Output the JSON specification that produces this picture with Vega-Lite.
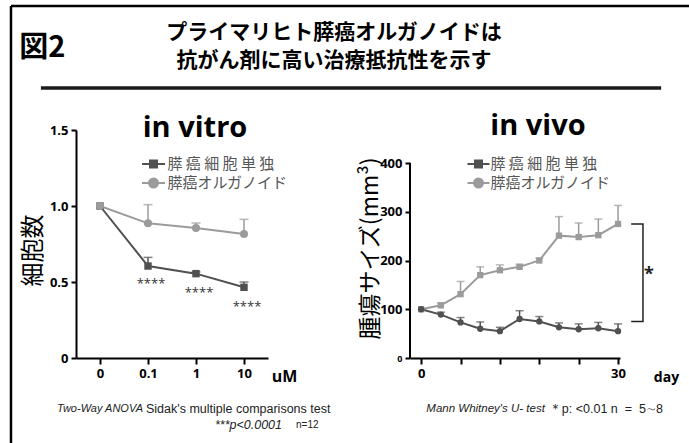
{
  "$schema": "https://vega.github.io/schema/vega-lite/v6.json",
  "padding": {"left": 9, "top": 4, "right": 0, "bottom": 0},
  "background": "white",
  "bounds": "flush",
  "spacing": 34,
  "config": {
    "view": {"stroke": null},
    "axis": {"domainColor": "black", "domainWidth": 2, "tickColor": "black", "tickWidth": 2, "tickSize": 5, "labelColor": "black", "labelFont": "Open Sans", "labelFontSize": 13, "labelFontWeight": "bold", "labelPadding": 3, "grid": false, "titleColor": "black"}
  },
  "vconcat": [
    {
      "width": 516,
      "height": 90,
      "data": {"values": [{}]},
      "layer": [
        {
          "mark": {"type": "rule", "stroke": "#000000", "strokeWidth": 2.5},
          "encoding": {
            "x": {"datum": -0.126, "type": "quantitative", "scale": {"domain": [0, 1], "nice": false, "zero": false}, "axis": null},
            "x2": {"datum": 1.2},
            "y": {"datum": 0.001, "type": "quantitative", "scale": {"domain": [0, 1], "nice": false, "zero": false, "reverse": true}, "axis": null}
          }
        },
        {
          "mark": {"type": "rule", "stroke": "#000000", "strokeWidth": 2.5},
          "encoding": {
            "x": {"datum": -0.126, "type": "quantitative", "axis": null},
            "y": {"datum": 0.001, "type": "quantitative", "axis": null},
            "y2": {"datum": 4.95}
          }
        },
        {
          "mark": {"type": "rule", "color": "#1a1a1a", "strokeWidth": 3.5},
          "encoding": {
            "x": {"datum": -0.068, "type": "quantitative", "axis": null},
            "x2": {"datum": 1.134},
            "y": {"datum": 0.911, "type": "quantitative", "axis": null}
          }
        },
        {
          "mark": {"type": "text", "text": "図2", "align": "left", "baseline": "middle", "font": "Noto Sans CJK JP", "fontSize": 29, "fontWeight": "bold", "color": "black"},
          "encoding": {
            "x": {"datum": -0.11, "type": "quantitative", "axis": null},
            "y": {"datum": 0.467, "type": "quantitative", "axis": null}
          }
        },
        {
          "mark": {"type": "text", "text": "プライマリヒト膵癌オルガノイドは", "align": "center", "baseline": "middle", "font": "Noto Sans CJK JP", "fontSize": 21, "fontWeight": "bold", "color": "black"},
          "encoding": {
            "x": {"datum": 0.5, "type": "quantitative", "axis": null},
            "y": {"datum": 0.3, "type": "quantitative", "axis": null}
          }
        },
        {
          "mark": {"type": "text", "text": "抗がん剤に高い治療抵抗性を示す", "align": "center", "baseline": "middle", "font": "Noto Sans CJK JP", "fontSize": 21, "fontWeight": "bold", "color": "black"},
          "encoding": {
            "x": {"datum": 0.5, "type": "quantitative", "axis": null},
            "y": {"datum": 0.61, "type": "quantitative", "axis": null}
          }
        }
      ]
    },
    {
      "bounds": "flush",
      "spacing": 142,
      "resolve": {"scale": {"color": "independent"}, "legend": {"color": "independent"}},
      "hconcat": [
        {
          "width": 192,
          "height": 228,
          "data": {"values": [
            {"conc": "0", "series": "膵癌オルガノイド", "mean": 1.0},
            {"conc": "0.1", "series": "膵癌オルガノイド", "mean": 0.886, "hi": 1.009},
            {"conc": "1", "series": "膵癌オルガノイド", "mean": 0.855, "hi": 0.888},
            {"conc": "10", "series": "膵癌オルガノイド", "mean": 0.816, "hi": 0.912},
            {"conc": "0", "series": "膵癌細胞単独", "mean": 1.0},
            {"conc": "0.1", "series": "膵癌細胞単独", "mean": 0.605, "hi": 0.662},
            {"conc": "1", "series": "膵癌細胞単独", "mean": 0.555, "hi": 0.566},
            {"conc": "10", "series": "膵癌細胞単独", "mean": 0.465, "hi": 0.5}
          ]},
          "layer": [
            {
              "mark": {"type": "line", "strokeWidth": 2},
              "encoding": {
                "x": {"field": "conc", "type": "ordinal", "sort": ["0", "0.1", "1", "10"], "scale": {"type": "point", "padding": 0.5, "domain": ["0", "0.1", "1", "10"]},
                  "axis": {"title": "uM", "titleX": 208, "titleY": 18, "titleAlign": "center", "titleBaseline": "middle", "titleAngle": 0, "titleFont": "Open Sans", "titleFontSize": 16, "titleFontWeight": "bold", "labelAngle": 0, "tickSize": 6}},
                "y": {"field": "mean", "type": "quantitative", "scale": {"domain": [0, 1.5], "nice": false, "zero": true},
                  "axis": {"values": [0, 0.5, 1, 1.5], "labelExpr": "datum.value == 0 ? '0' : format(datum.value, '.1f')", "title": "細胞数", "titleFont": "Noto Sans CJK JP", "titleFontSize": 24, "titleFontWeight": "normal", "titleX": -43, "titleY": 120, "titleAngle": -90, "titleAlign": "center", "titleBaseline": "middle"}},
                "color": {"field": "series", "type": "nominal", "scale": {"domain": ["膵癌細胞単独", "膵癌オルガノイド"], "range": ["#505050", "#9b9b9b"]},
                  "legend": {"orient": "none", "legendX": 66.5, "legendY": 23, "title": null, "symbolSize": 400, "symbolStrokeWidth": 2, "labelFont": "Noto Sans CJK JP", "labelFontSize": 15, "labelColor": "#555555", "labelOffset": 3, "rowPadding": 0,
                    "labelExpr": "datum.label == '膵癌細胞単独' ? '膵 癌 細 胞 単 独' : datum.label",
                    "encode": {"symbols": {"update": {
                      "shape": {"signal": "datum.value == '膵癌細胞単独' ? 'M-1.15,0H1.15M-0.35,-0.35H0.35V0.35H-0.35Z' : 'M-1.15,0H1.15M0.45,0A0.45,0.45 0 1 1 -0.45,0A0.45,0.45 0 1 1 0.45,0Z'"},
                      "fill": {"signal": "datum.value == '膵癌細胞単独' ? '#505050' : '#9b9b9b'"},
                      "stroke": {"signal": "datum.value == '膵癌細胞単独' ? '#505050' : '#9b9b9b'"},
                      "opacity": {"value": 1}
                    }}}}}
              }
            },
            {
              "transform": [{"filter": "datum.hi != null"}],
              "mark": {"type": "rule", "strokeWidth": 1.5},
              "encoding": {
                "x": {"field": "conc", "type": "ordinal"},
                "y": {"field": "mean", "type": "quantitative"},
                "y2": {"field": "hi"},
                "color": {"field": "series", "type": "nominal"}
              }
            },
            {
              "transform": [{"filter": "datum.hi != null"}],
              "mark": {"type": "tick", "orient": "horizontal", "size": 9, "thickness": 1.5},
              "encoding": {
                "x": {"field": "conc", "type": "ordinal"},
                "y": {"field": "hi", "type": "quantitative"},
                "color": {"field": "series", "type": "nominal"}
              }
            },
            {
              "transform": [{"filter": "datum.series == '膵癌細胞単独'"}],
              "mark": {"type": "point", "shape": "square", "filled": true, "opacity": 1, "size": 55},
              "encoding": {
                "x": {"field": "conc", "type": "ordinal"},
                "y": {"field": "mean", "type": "quantitative"},
                "color": {"field": "series", "type": "nominal"}
              }
            },
            {
              "transform": [{"filter": "datum.series == '膵癌オルガノイド'"}],
              "mark": {"type": "point", "shape": "circle", "filled": true, "opacity": 1, "size": 65},
              "encoding": {
                "x": {"field": "conc", "type": "ordinal"},
                "y": {"field": "mean", "type": "quantitative"},
                "color": {"field": "series", "type": "nominal"}
              }
            },
            {
              "data": {"values": [
                {"conc": "0.1", "mean": 0.487, "sig": "****"},
                {"conc": "1", "mean": 0.425, "sig": "****"},
                {"conc": "10", "mean": 0.333, "sig": "****"}
              ]},
              "mark": {"type": "text", "dx": 3, "dy": 0, "font": "Open Sans", "fontSize": 13, "color": "#333333", "baseline": "middle"},
              "encoding": {
                "x": {"field": "conc", "type": "ordinal"},
                "y": {"field": "mean", "type": "quantitative"},
                "text": {"field": "sig"}
              }
            },
            {
              "data": {"values": [{}]},
              "mark": {"type": "text", "text": "in vitro", "align": "center", "baseline": "alphabetic", "dx": -1, "dy": 7, "font": "Open Sans", "fontSize": 29, "fontWeight": "bold", "color": "black"},
              "encoding": {"x": {"datum": "1", "type": "ordinal"}, "y": {"datum": 1.5, "type": "quantitative"}}
            },
            {
              "data": {"values": [{}]},
              "mark": {"type": "text", "text": "Two-Way ANOVA", "align": "right", "baseline": "middle", "dx": -5, "dy": 51, "font": "Liberation Sans", "fontSize": 11, "fontStyle": "italic", "color": "#222222"},
              "encoding": {"x": {"datum": "0.1", "type": "ordinal"}, "y": {"datum": 0, "type": "quantitative"}}
            },
            {
              "data": {"values": [{}]},
              "mark": {"type": "text", "text": "Sidak's multiple comparisons test", "align": "left", "baseline": "middle", "dx": -2, "dy": 51, "font": "Liberation Sans", "fontSize": 12.5, "color": "#222222"},
              "encoding": {"x": {"datum": "0.1", "type": "ordinal"}, "y": {"datum": 0, "type": "quantitative"}}
            },
            {
              "data": {"values": [{}]},
              "mark": {"type": "text", "text": "***p<0.0001", "align": "right", "baseline": "middle", "dx": 38, "dy": 67, "font": "Liberation Sans", "fontSize": 12.5, "fontStyle": "italic", "color": "#222222"},
              "encoding": {"x": {"datum": "10", "type": "ordinal"}, "y": {"datum": 0, "type": "quantitative"}}
            },
            {
              "data": {"values": [{}]},
              "mark": {"type": "text", "text": "n=12", "align": "left", "baseline": "middle", "dx": 52, "dy": 67, "font": "Liberation Sans", "fontSize": 10, "color": "#222222"},
              "encoding": {"x": {"datum": "10", "type": "ordinal"}, "y": {"datum": 0, "type": "quantitative"}}
            }
          ]
        },
        {
          "width": 210,
          "height": 228,
          "data": {"values": [
            {"day": 0, "series": "膵癌オルガノイド", "mean": 100},
            {"day": 3, "series": "膵癌オルガノイド", "mean": 108, "hi": 113},
            {"day": 6, "series": "膵癌オルガノイド", "mean": 131, "hi": 157},
            {"day": 9, "series": "膵癌オルガノイド", "mean": 170, "hi": 187},
            {"day": 12, "series": "膵癌オルガノイド", "mean": 180, "hi": 191},
            {"day": 15, "series": "膵癌オルガノイド", "mean": 187, "hi": 192},
            {"day": 18, "series": "膵癌オルガノイド", "mean": 200, "hi": 205},
            {"day": 21, "series": "膵癌オルガノイド", "mean": 251, "hi": 290},
            {"day": 24, "series": "膵癌オルガノイド", "mean": 248, "hi": 277},
            {"day": 27, "series": "膵癌オルガノイド", "mean": 252, "hi": 285},
            {"day": 30, "series": "膵癌オルガノイド", "mean": 275, "hi": 313},
            {"day": 0, "series": "膵癌細胞単独", "mean": 100},
            {"day": 3, "series": "膵癌細胞単独", "mean": 89, "hi": 94},
            {"day": 6, "series": "膵癌細胞単独", "mean": 73, "hi": 83},
            {"day": 9, "series": "膵癌細胞単独", "mean": 60, "hi": 74},
            {"day": 12, "series": "膵癌細胞単独", "mean": 55, "hi": 63},
            {"day": 15, "series": "膵癌細胞単独", "mean": 80, "hi": 97},
            {"day": 18, "series": "膵癌細胞単独", "mean": 75, "hi": 85},
            {"day": 21, "series": "膵癌細胞単独", "mean": 63, "hi": 72},
            {"day": 24, "series": "膵癌細胞単独", "mean": 59, "hi": 70},
            {"day": 27, "series": "膵癌細胞単独", "mean": 61, "hi": 73},
            {"day": 30, "series": "膵癌細胞単独", "mean": 55, "hi": 70}
          ]},
          "layer": [
            {
              "mark": {"type": "line", "strokeWidth": 2},
              "encoding": {
                "x": {"field": "day", "type": "quantitative", "scale": {"domain": [-1.7, 30.3], "nice": false, "zero": false},
                  "axis": {"values": [0, 3, 6, 9, 12, 15, 18, 21, 24, 27, 30], "labelExpr": "datum.value % 15 == 0 ? datum.label : ''", "title": "day", "titleX": 256, "titleY": 19, "titleAlign": "center", "titleBaseline": "middle", "titleAngle": 0, "titleFont": "Open Sans", "titleFontSize": 14, "titleFontWeight": "bold", "tickSize": 6}},
                "y": {"field": "mean", "type": "quantitative", "scale": {"domain": [0, 467.7], "nice": false, "zero": true},
                  "axis": {"values": [0, 100, 200, 300, 400], "domain": false,
                    "labelFontSize": {"condition": {"test": "datum.value == 0", "value": 9}, "value": 13},
                    "title": "腫瘍サイズ(mm³)", "titleFont": "Noto Sans CJK JP", "titleFontSize": 23, "titleFontWeight": "normal", "titleX": -40, "titleY": 118, "titleAngle": -90, "titleAlign": "center", "titleBaseline": "middle"}},
                "color": {"field": "series", "type": "nominal", "scale": {"domain": ["膵癌細胞単独", "膵癌オルガノイド"], "range": ["#505050", "#9b9b9b"]},
                  "legend": {"orient": "none", "legendX": 57.5, "legendY": 23, "title": null, "symbolSize": 400, "symbolStrokeWidth": 2, "labelFont": "Noto Sans CJK JP", "labelFontSize": 15, "labelColor": "#555555", "labelOffset": 1, "rowPadding": 0,
                    "labelExpr": "datum.label == '膵癌細胞単独' ? '膵 癌 細 胞 単 独' : datum.label",
                    "encode": {"symbols": {"update": {
                      "shape": {"signal": "datum.value == '膵癌細胞単独' ? 'M-1.1,0H1.1M-0.35,-0.35H0.35V0.35H-0.35Z' : 'M-1.1,0H1.1M0.45,0A0.45,0.45 0 1 1 -0.45,0A0.45,0.45 0 1 1 0.45,0Z'"},
                      "fill": {"signal": "datum.value == '膵癌細胞単独' ? '#505050' : '#9b9b9b'"},
                      "stroke": {"signal": "datum.value == '膵癌細胞単独' ? '#505050' : '#9b9b9b'"},
                      "opacity": {"value": 1}
                    }}}}}
              }
            },
            {
              "transform": [{"filter": "datum.hi != null"}],
              "mark": {"type": "rule", "strokeWidth": 1.5},
              "encoding": {
                "x": {"field": "day", "type": "quantitative"},
                "y": {"field": "mean", "type": "quantitative"},
                "y2": {"field": "hi"},
                "color": {"field": "series", "type": "nominal"}
              }
            },
            {
              "transform": [{"filter": "datum.hi != null"}],
              "mark": {"type": "tick", "orient": "horizontal", "size": 8, "thickness": 1.5},
              "encoding": {
                "x": {"field": "day", "type": "quantitative"},
                "y": {"field": "hi", "type": "quantitative"},
                "color": {"field": "series", "type": "nominal"}
              }
            },
            {
              "transform": [{"filter": "datum.series == '膵癌オルガノイド'"}],
              "mark": {"type": "point", "shape": "square", "filled": true, "opacity": 1, "size": 40},
              "encoding": {
                "x": {"field": "day", "type": "quantitative"},
                "y": {"field": "mean", "type": "quantitative"},
                "color": {"field": "series", "type": "nominal"}
              }
            },
            {
              "transform": [{"filter": "datum.series == '膵癌細胞単独'"}],
              "mark": {"type": "point", "shape": "circle", "filled": true, "opacity": 1, "size": 40},
              "encoding": {
                "x": {"field": "day", "type": "quantitative"},
                "y": {"field": "mean", "type": "quantitative"},
                "color": {"field": "series", "type": "nominal"}
              }
            },
            {
              "data": {"values": [{}]},
              "mark": {"type": "rule", "color": "black", "strokeWidth": 2},
              "encoding": {"x": {"datum": -1.7, "type": "quantitative"}, "y": {"datum": 0, "type": "quantitative"}, "y2": {"datum": 400}}
            },
            {
              "data": {"values": [
                {"day": 32, "mean": 275, "o": 1},
                {"day": 33.8, "mean": 275, "o": 2},
                {"day": 33.8, "mean": 75, "o": 3},
                {"day": 32, "mean": 75, "o": 4}
              ]},
              "mark": {"type": "line", "color": "#222222", "strokeWidth": 1.5},
              "encoding": {
                "x": {"field": "day", "type": "quantitative"},
                "y": {"field": "mean", "type": "quantitative"},
                "order": {"field": "o", "type": "quantitative"}
              }
            },
            {
              "data": {"values": [{"day": 34.7, "mean": 178, "sig": "*"}]},
              "mark": {"type": "text", "font": "Open Sans", "fontSize": 18, "fontWeight": "bold", "color": "#222222", "baseline": "middle", "dy": 4},
              "encoding": {
                "x": {"field": "day", "type": "quantitative"},
                "y": {"field": "mean", "type": "quantitative"},
                "text": {"field": "sig"}
              }
            },
            {
              "data": {"values": [{}]},
              "mark": {"type": "text", "text": "in vivo", "align": "center", "baseline": "alphabetic", "dy": 5, "font": "Open Sans", "fontSize": 29, "fontWeight": "bold", "color": "black"},
              "encoding": {"x": {"datum": 17.8, "type": "quantitative"}, "y": {"datum": 467.7, "type": "quantitative"}}
            },
            {
              "data": {"values": [{}]},
              "mark": {"type": "text", "text": "Mann Whitney's  U- test", "align": "right", "baseline": "middle", "dx": -1, "dy": 51, "font": "Liberation Sans", "fontSize": 11.5, "fontStyle": "italic", "color": "#222222"},
              "encoding": {"x": {"datum": 19, "type": "quantitative"}, "y": {"datum": 0, "type": "quantitative"}}
            },
            {
              "data": {"values": [{}]},
              "mark": {"type": "text", "text": "＊p: <0.01 n\u00a0\u00a0=\u00a0\u00a05∼8", "align": "left", "baseline": "middle", "dx": 3, "dy": 51, "font": "Liberation Sans", "fontSize": 12.5, "color": "#222222"},
              "encoding": {"x": {"datum": 19, "type": "quantitative"}, "y": {"datum": 0, "type": "quantitative"}}
            }
          ]
        }
      ]
    }
  ]
}
